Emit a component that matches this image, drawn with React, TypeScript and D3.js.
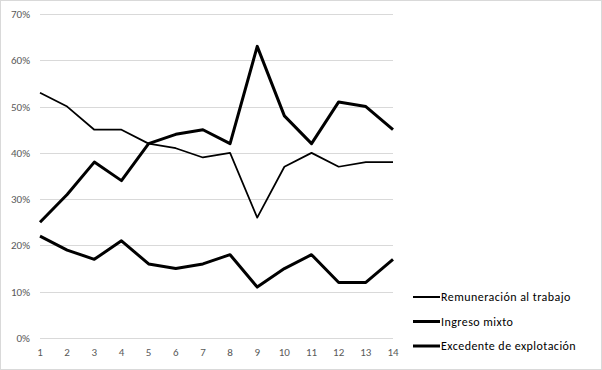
import React, { useEffect, useRef } from 'react';
import * as d3 from 'd3';

const periods = [1, 2, 3, 4, 5, 6, 7, 8, 9, 10, 11, 12, 13, 14];
const remuneracion = [53, 50, 45, 45, 42, 41, 39, 40, 26, 37, 40, 37, 38, 38];
const ingresoMixto = [25, 31, 38, 34, 42, 44, 45, 42, 63, 48, 42, 51, 50, 45];
const excedente = [22, 19, 17, 21, 16, 15, 16, 18, 11, 15, 18, 12, 12, 17];
const yTicks = [0, 10, 20, 30, 40, 50, 60, 70];
const seriesNames = ['Remuneración al trabajo', 'Ingreso mixto', 'Excedente de explotación'];

const W = 602;
const H = 370;

export default function App() {
  const svgRef = useRef<SVGSVGElement>(null);

  useEffect(() => {
    if (!svgRef.current) return;
    const svg = d3.select(svgRef.current);
    svg.selectAll('*').remove();

    const font = "Carlito, Calibri, 'Open Sans', 'Liberation Sans', sans-serif";

    // chart frame
    svg.append('rect')
      .attr('x', 0.5).attr('y', 0.5)
      .attr('width', W - 1).attr('height', H - 1)
      .attr('fill', '#fff')
      .attr('stroke', '#d9d9d9');

    const x = d3.scaleLinear().domain([1, 14]).range([40, 393]);
    const y = d3.scaleLinear().domain([0, 70]).range([338, 14]);

    // grid
    svg.append('g')
      .selectAll('line')
      .data(yTicks)
      .join('line')
      .attr('x1', 40).attr('x2', 393)
      .attr('y1', d => Math.round(y(d)) + 0.5)
      .attr('y2', d => Math.round(y(d)) + 0.5)
      .attr('stroke', '#d9d9d9')
      .attr('stroke-width', 1);

    // y labels
    svg.append('g')
      .selectAll('text')
      .data(yTicks)
      .join('text')
      .attr('x', 30)
      .attr('y', d => y(d) + 4)
      .attr('text-anchor', 'end')
      .attr('font-family', font)
      .attr('font-size', 11)
      .attr('fill', '#595959')
      .text(d => `${d}%`);

    // x labels
    svg.append('g')
      .selectAll('text')
      .data(periods)
      .join('text')
      .attr('x', d => x(d))
      .attr('y', 356)
      .attr('text-anchor', 'middle')
      .attr('font-family', font)
      .attr('font-size', 11)
      .attr('fill', '#595959')
      .text(d => d);

    const series = [
      { name: seriesNames[0], values: remuneracion, width: 1.75 },
      { name: seriesNames[1], values: ingresoMixto, width: 3 },
      { name: seriesNames[2], values: excedente, width: 3 },
    ];

    const line = d3.line<number>()
      .x((_, i) => x(periods[i]))
      .y(d => y(d));

    series.forEach(s => {
      svg.append('path')
        .datum(s.values)
        .attr('d', line)
        .attr('fill', 'none')
        .attr('stroke', '#000')
        .attr('stroke-width', s.width)
        .attr('stroke-linejoin', 'round');
    });

    // legend
    const legend = svg.append('g');
    series.forEach((s, i) => {
      const ly = 297 + i * 24.5;
      legend.append('line')
        .attr('x1', 413).attr('x2', 440)
        .attr('y1', ly).attr('y2', ly)
        .attr('stroke', '#000')
        .attr('stroke-width', i === 0 ? 2 : 3);
      legend.append('text')
        .attr('x', 441)
        .attr('y', ly + 4)
        .attr('font-family', font)
        .attr('font-size', 12)
        .attr('letter-spacing', 0.45)
        .attr('fill', '#000')
        .text(s.name);
    });
  }, []);

  return (
    <div>
      <style>{'body{margin:0}'}</style>
      <svg ref={svgRef} width={W} height={H} style={{ display: 'block' }}></svg>
    </div>
  );
}
